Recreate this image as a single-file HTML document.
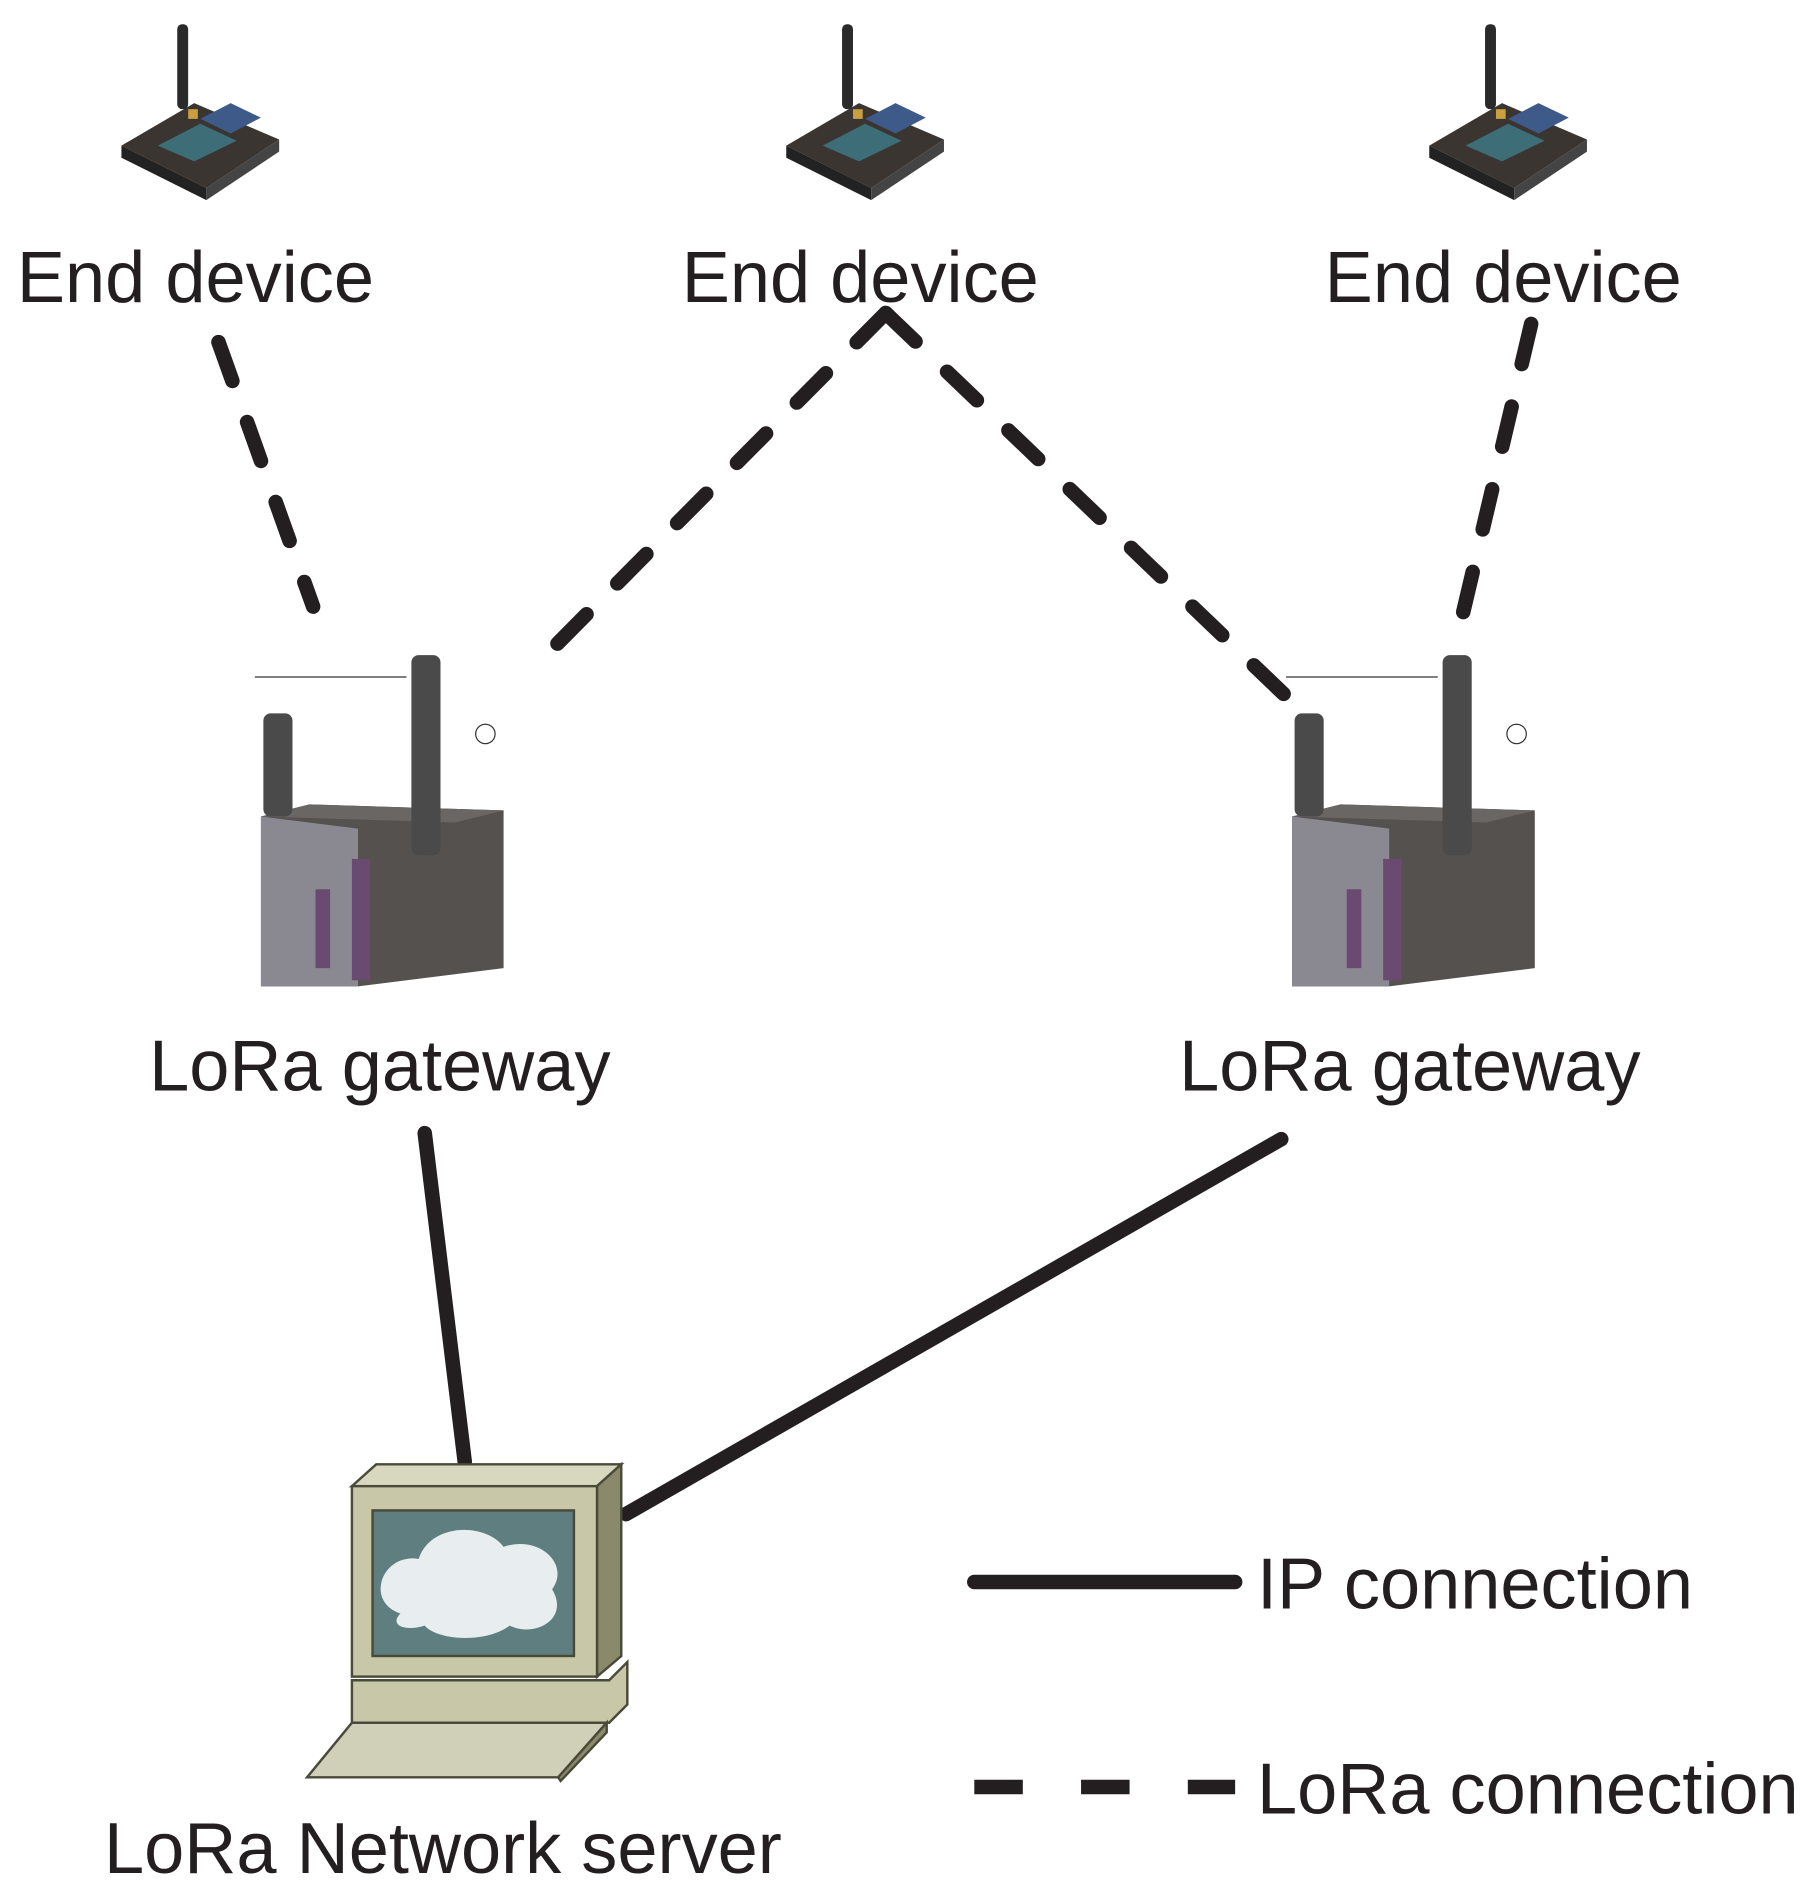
<!DOCTYPE html>
<html><head><meta charset="utf-8"><style>
html,body{margin:0;padding:0;background:#fff;}
svg{display:block;}
text{font-family:"Liberation Sans",Arial,sans-serif;fill:#231f20;}
</style></head><body>
<svg width="1820" height="1895" viewBox="0 0 1500 1562" xmlns="http://www.w3.org/2000/svg">
<defs>
<g id="dev">
  <rect x="-14" y="-140" width="9" height="70" rx="4" fill="#2a2a2a"/>
  <polygon points="-60,-40 0,-75 70,-45 10,-5" fill="#3a3530"/>
  <polygon points="-60,-40 10,-5 10,5 -60,-30" fill="#222"/>
  <polygon points="10,-5 70,-45 70,-35 10,5" fill="#444"/>
  <polygon points="-30,-40 5,-58 35,-44 0,-27" fill="#3d6e78"/>
  <polygon points="5,-62 30,-75 55,-63 30,-50" fill="#3d5a88"/>
  <rect x="-5" y="-70" width="8" height="8" fill="#c8a040"/>
</g>
<g id="gw">
  <polygon points="0,130 0,-10 40,-20 200,-15 200,115 80,130" fill="#55514f"/>
  <polygon points="0,-10 40,-20 200,-15 160,-5" fill="#6a6664"/>
  <polygon points="0,-10 80,0 80,130 0,130" fill="#8a8890"/>
  <rect x="45" y="50" width="12" height="65" fill="#6a4a70"/>
  <rect x="75" y="25" width="15" height="100" fill="#6a4a70"/>
  <rect x="2" y="-95" width="24" height="85" rx="6" fill="#4a4a4a"/>
  <rect x="124" y="-143" width="24" height="165" rx="6" fill="#4a4a4a"/>
  <line x1="-5" y1="-125" x2="120" y2="-125" stroke="#333" stroke-width="1"/>
  <circle cx="185" cy="-78" r="8" fill="none" stroke="#333"/>
</g>
</defs>

<use href="#dev" x="160" y="160"/>
<use href="#dev" x="708" y="160"/>
<use href="#dev" x="1238" y="160"/>

<text x="161" y="249" font-size="59.5" text-anchor="middle">End device</text>
<text x="709" y="249" font-size="59.5" text-anchor="middle">End device</text>
<text x="1239" y="249" font-size="59.5" text-anchor="middle">End device</text>

<g stroke="#231f20" stroke-width="12" stroke-linecap="round" fill="none" stroke-dasharray="34 36">
  <line x1="180" y1="282" x2="258" y2="500"/>
  <line x1="730" y1="258" x2="445" y2="545"/>
  <line x1="730" y1="258" x2="1058" y2="572"/>
  <line x1="1262" y1="267" x2="1200" y2="530"/>
</g>

<use href="#gw" x="215" y="683"/>
<use href="#gw" x="1065" y="683"/>

<text x="313" y="899" font-size="59.5" text-anchor="middle">LoRa gateway</text>
<text x="1162" y="899" font-size="59.5" text-anchor="middle">LoRa gateway</text>

<g stroke="#231f20" stroke-width="12" stroke-linecap="round">
  <line x1="350" y1="934" x2="383" y2="1205"/>
  <line x1="1056" y1="939" x2="516" y2="1248"/>
  <line x1="803" y1="1304" x2="1018" y2="1304"/>
  <line x1="803" y1="1473" x2="1018" y2="1473" stroke-dasharray="40 48" stroke-linecap="butt"/>
</g>

<g stroke="#4a4a3a" stroke-width="2">
  <polygon points="290,1225 310,1207 512,1207 492,1225" fill="#d8d8c0"/>
  <polygon points="492,1225 512,1207 512,1365 492,1382" fill="#8a8a6a"/>
  <rect x="290" y="1225" width="202" height="157" fill="#c8c8a8"/>
  <rect x="307" y="1245" width="166" height="120" fill="#5e7e80"/>
  <path d="M330,1330 C300,1320 315,1280 345,1285 C355,1255 400,1255 415,1275 C445,1265 470,1290 455,1310 C470,1335 440,1350 420,1340 C400,1355 360,1352 350,1340 C335,1345 320,1340 330,1330 Z" fill="#e8eef0" stroke="none"/>
  <polygon points="290,1385 502,1385 517,1370 517,1405 502,1420 290,1420" fill="#c8c8a8"/>
  <polygon points="290,1420 500,1420 460,1465 253,1465" fill="#d0d0b8"/>
  <polygon points="500,1420 500,1428 462,1468 460,1465" fill="#8a8a6a"/>
</g>

<text x="365" y="1544" font-size="59.5" text-anchor="middle">LoRa Network server</text>
<text x="1036" y="1326" font-size="59.5">IP connection</text>
<text x="1036" y="1495" font-size="59.5">LoRa connection</text>
</svg>
</body></html>
